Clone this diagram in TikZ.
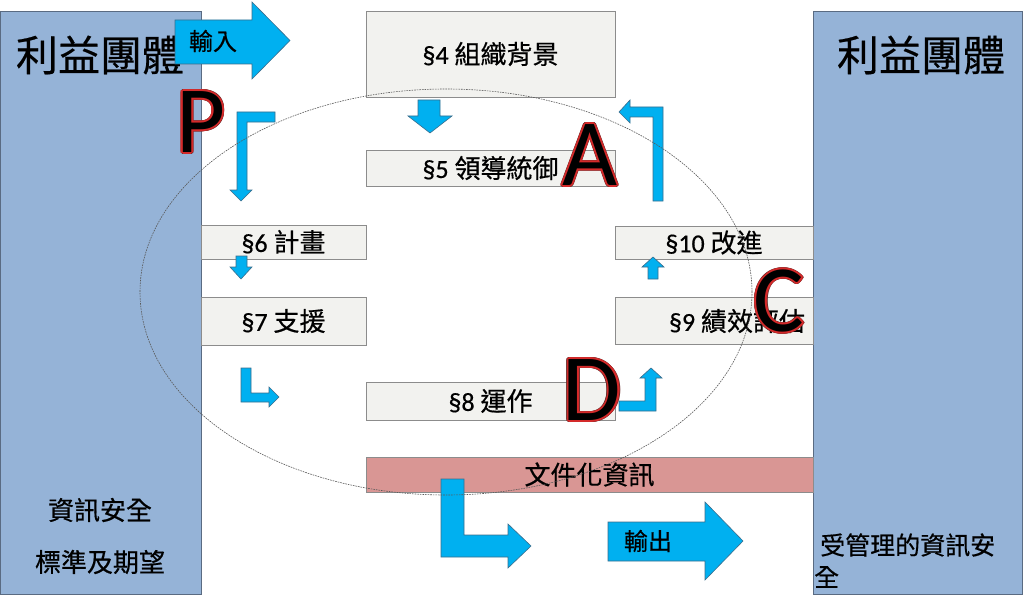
\documentclass[tikz,border=0pt]{standalone}
\usepackage{fontspec}
\setmainfont{Noto Sans CJK TC}[FakeBold=0.5]
\newfontfamily\letterfont{Carlito}
\newfontfamily\secfont{Carlito}[FakeBold=0.5]
\usetikzlibrary{calc}
\definecolor{stakefill}{HTML}{95B3D7}
\definecolor{stakeborder}{HTML}{5A6B82}
\definecolor{boxfill}{HTML}{F2F2EF}
\definecolor{boxborder}{HTML}{8C8C8C}
\definecolor{docfill}{HTML}{D99694}
\definecolor{arrowblue}{HTML}{00B0F0}
\definecolor{arrowborder}{HTML}{3A6D8C}
\definecolor{outlinered}{HTML}{D42A2A}
\definecolor{outlinedark}{HTML}{6A2A2A}
\newcommand\secnum[1]{{\secfont §#1 }}
\tikzset{
  stake/.style={draw=stakeborder, fill=stakefill, line width=0.9pt, inner sep=0pt, outer sep=0pt},
  clause/.style={draw=boxborder, fill=boxfill, line width=0.9pt, inner sep=0pt, outer sep=0pt,
    font=\fontsize{26}{30}\selectfont},
  docbox/.style={clause, fill=docfill},
  barrow/.style={draw=arrowborder, fill=arrowblue, line width=0.6pt},
  ellip/.style={draw=black!65, line width=0.6pt, dash pattern=on 1.6pt off 1pt},
  title/.style={font=\fontsize{42}{46}\selectfont, inner sep=0pt},
  lbl/.style={font=\fontsize{26}{30}\selectfont, inner sep=0pt},
  arrlbl/.style={font=\fontsize{24}{28}\selectfont, inner sep=0pt},
  pdcaletter/.style={font=\letterfont\fontsize{95}{100}\selectfont, inner sep=0pt},
}
\newcommand\pdcamark[3]{%
  \foreach \ang in {0,30,...,330}
    \node[pdcaletter, text=outlinedark] at ($(#2)+(\ang:2.4)$) {#3};
  \foreach \ang in {0,30,...,330}
    \node[pdcaletter, text=outlinered] at ($(#2)+(\ang:1.7)$) {#3};
  \node[pdcaletter, text=black] (#1) at (#2) {#3};}
\begin{document}
\begin{tikzpicture}[x=1pt, y=-1pt]
\useasboundingbox (0,0) rectangle (1024,607);
\fill[white] (0,0) rectangle (1024,607);

% stakeholders
\node[stake, minimum width=201pt, minimum height=583pt] (stakeL) at (100.5,302.5) {};
\node[stake, minimum width=209pt, minimum height=583pt] (stakeR) at (917.5,302.5) {};
\node[title] (titleL) at (100,55) {利益團體};
\node[title] (titleR) at (921,55) {利益團體};
\node[lbl] (reqA) at (100,510) {資訊安全};
\node[lbl] (reqB) at (100,562) {標準及期望};
\node[lbl, font=\fontsize{25}{28}\selectfont, anchor=west] (outA) at (820,545) {受管理的資訊安};
\node[lbl, font=\fontsize{25}{28}\selectfont, anchor=west] (outB) at (814,577) {全};

% clause boxes
\node[clause, minimum width=249pt, minimum height=86pt] (c4) at (490.5,54) {\secnum{4}組織背景};
\node[clause, minimum width=249pt, minimum height=36pt] (c5) at (490.5,168) {\secnum{5}領導統御};
\node[clause, minimum width=165pt, minimum height=34pt] (c6) at (283.5,242) {\secnum{6}計畫};
\node[clause, minimum width=165pt, minimum height=48pt] (c7) at (283.5,321) {\secnum{7}支援};
\node[clause, minimum width=249pt, minimum height=38pt] (c8) at (490.5,401) {\secnum{8}運作};
\node[clause, minimum width=198pt, minimum height=47pt] (c9) at (714,320.5) {};
\node[lbl] (t9) at (737,321) {\secnum{9}績效評估};
\node[clause, minimum width=198pt, minimum height=33pt] (c10) at (714,242.5) {\secnum{10}改進};
\node[docbox, minimum width=447pt, minimum height=35pt] (doc) at (589.5,474.5) {文件化資訊};

% block arrows
\draw[barrow] (175,20) -- (252,20) -- (252,2) -- (290,40.5) -- (252,79) -- (252,64) -- (175,64) -- cycle;
\node[arrlbl] (inlbl) at (213,41) {輸入};
\draw[barrow] (275,112) -- (237,112) -- (237,190) -- (230,190) -- (241,201) -- (252,190) -- (247,190) -- (247,122) -- (275,122) -- cycle;
\draw[barrow] (418,100) -- (440,100) -- (440,116) -- (452,116) -- (430,133) -- (408,116) -- (418,116) -- cycle;
\draw[barrow] (236,256) -- (247,256) -- (247,267) -- (252,267) -- (241,279) -- (230,267) -- (236,267) -- cycle;
\draw[barrow] (241,368) -- (251,368) -- (251,393) -- (269,393) -- (269,387) -- (279,397) -- (269,407) -- (269,402) -- (241,402) -- cycle;
\draw[barrow] (619,401) -- (645,401) -- (645,378) -- (640,378) -- (651,368) -- (662,378) -- (656,378) -- (656,411) -- (619,411) -- cycle;
\draw[barrow] (648,279) -- (648,267) -- (642,267) -- (653,257) -- (664,267) -- (658,267) -- (658,279) -- cycle;
\draw[barrow] (653,201) -- (653,117) -- (630,117) -- (630,123) -- (619,112) -- (630,100) -- (630,107) -- (663,107) -- (663,201) -- cycle;
\draw[barrow] (441,479) -- (464,479) -- (464,535) -- (508,535) -- (508,524) -- (531,546) -- (508,568) -- (508,557) -- (441,557) -- cycle;
\draw[barrow] (608,522) -- (705,522) -- (705,502) -- (743,541) -- (705,580) -- (705,561) -- (608,561) -- cycle;
\node[arrlbl] (outlbl) at (648,541) {輸出};

% PDCA ellipse
\draw[ellip] (446,292) ellipse [x radius=306pt, y radius=203pt];

% PDCA letters
\pdcamark{P}{201,122}{P}
\pdcamark{A}{590,155}{A}
\pdcamark{C}{779,301}{C}
\pdcamark{D}{592,390}{D}
\end{tikzpicture}
\end{document}
